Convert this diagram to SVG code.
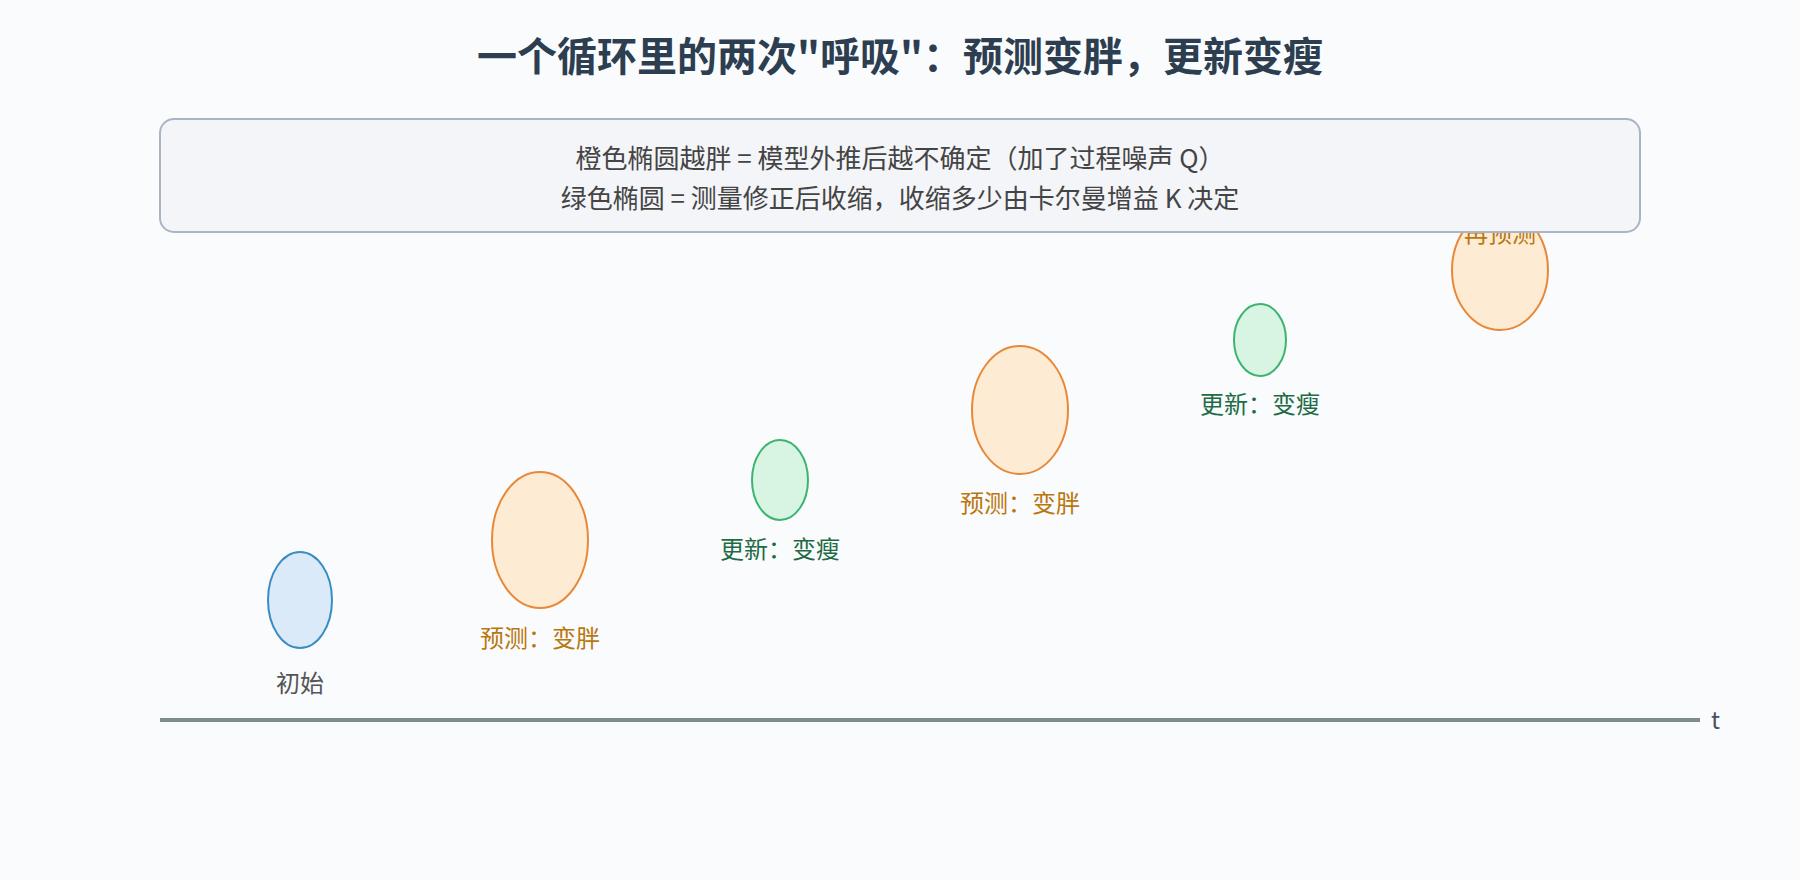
<svg xmlns="http://www.w3.org/2000/svg" width="1800" height="880" viewBox="0 0 1800 880">
<style>
text{font-family:"Noto Sans CJK SC","Noto Sans",sans-serif;}
.title{font-size:40px;font-weight:bold;fill:#2c3e50;text-anchor:middle;}
.note{font-size:26px;fill:#444;text-anchor:middle;}
.lbl{font-size:24px;text-anchor:middle;}
.init{fill:#dbeaf8;stroke:#3a8cc4;stroke-width:2;}
.pred{fill:#fdebd3;stroke:#e8893a;stroke-width:2;}
.upd{fill:#d8f5e4;stroke:#3cb46e;stroke-width:2;}
.lgray{fill:#555;}
.lorange{fill:#b9770e;}
.lgreen{fill:#1e6b46;}
</style>
<rect width="1800" height="880" fill="#f9fbfd"/>
<text class="title" x="900" y="71">一个循环里的两次"呼吸"：预测变胖，更新变瘦</text>
<g id="axis">
<line x1="160" y1="720" x2="1700" y2="720" stroke="#7f8c8d" stroke-width="4"/>
<text x="1711" y="729" font-size="24" fill="#4a5060">t</text>
</g>
<g id="node-init">
<ellipse class="init" cx="300" cy="600" rx="32" ry="48"/>
<text class="lbl lgray" x="300" y="692">初始</text>
</g>
<g id="node-pred1">
<ellipse class="pred" cx="540" cy="540" rx="48" ry="68"/>
<text class="lbl lorange" x="540" y="647">预测：变胖</text>
</g>
<g id="node-upd1">
<ellipse class="upd" cx="780" cy="480" rx="28" ry="40"/>
<text class="lbl lgreen" x="780" y="558">更新：变瘦</text>
</g>
<g id="node-pred2">
<ellipse class="pred" cx="1020" cy="410" rx="48" ry="64"/>
<text class="lbl lorange" x="1020" y="512">预测：变胖</text>
</g>
<g id="node-upd2">
<ellipse class="upd" cx="1260" cy="340" rx="26" ry="36"/>
<text class="lbl lgreen" x="1260" y="413">更新：变瘦</text>
</g>
<g id="node-pred3">
<ellipse class="pred" cx="1500" cy="270" rx="48" ry="60"/>
<text class="lbl lorange" x="1500" y="242">再预测</text>
</g>
<g id="legend">
<rect x="160" y="119" width="1480" height="113" rx="14" fill="#f3f5f9" stroke="#a9b5c3" stroke-width="2"/>
<text class="note" x="900" y="168">橙色椭圆越胖 = 模型外推后越不确定（加了过程噪声 Q）</text>
<text class="note" x="900" y="208">绿色椭圆 = 测量修正后收缩，收缩多少由卡尔曼增益 K 决定</text>
</g>
</svg>
